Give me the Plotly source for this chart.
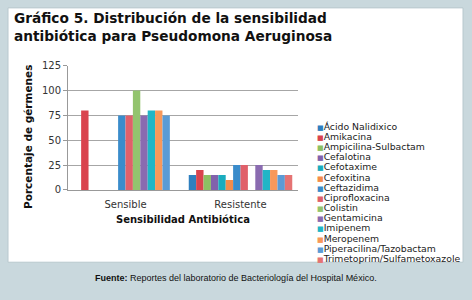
import plotly.graph_objects as go

categories = ["Sensible", "Resistente"]
antibiotics = ["Ácido Nalidixico", "Amikacina", "Ampicilina-Sulbactam", "Cefalotina",
               "Cefotaxime", "Cefoxitina", "Ceftazidima", "Ciprofloxacina", "Colistin",
               "Gentamicina", "Imipenem", "Meropenem", "Piperacilina/Tazobactam",
               "Trimetoprim/Sulfametoxazole"]
sensible = [0, 80, 0, 0, 0, 0, 75, 75, 100, 75, 80, 80, 75, 0]
resistente = [15, 20, 15, 15, 15, 10, 25, 25, 0, 25, 20, 20, 15, 15]
colors = ["#2E7FBF", "#D9434E", "#8CC063", "#8162AC", "#1AACBE", "#F58C4B",
          "#3A8CCB", "#E0606A", "#93C46E", "#8A6BB0", "#20B6C6", "#F8985A",
          "#5B9BD5", "#E57373"]
y_ticks = [0, 25, 50, 75, 100, 125]

W, H = 472, 300
fig = go.Figure()
for i, name in enumerate(antibiotics):
    fig.add_trace(go.Bar(x=categories, y=[sensible[i], resistente[i]], name=name,
                         marker=dict(color=colors[i], line=dict(width=0)),
                         showlegend=False))

# white panel
fig.add_shape(type="rect", xref="paper", yref="paper",
              x0=8/W, x1=463/W, y0=1-267/H, y1=1-3/H,
              fillcolor="white", line=dict(color="#b8c8ce", width=1), layer="below")

# manual legend
for i, name in enumerate(antibiotics):
    y = 126 + i * 10.54
    fig.add_annotation(xref="paper", yref="paper", x=315/W, y=1-y/H,
                       xanchor="left", yanchor="middle", showarrow=False,
                       text=f"<span style='color:{colors[i]};font-size:7px'>■</span>{name}",
                       font=dict(family="DejaVu Sans", size=9.3, color="#222222"))

fig.add_annotation(xref="paper", yref="paper", x=12/W, y=1-3/H, xanchor="left", yanchor="top",
                   showarrow=False, align="left",
                   text="<b>Gráfico 5. Distribución de la sensibilidad<br>antibiótica para Pseudomona Aeruginosa</b>",
                   font=dict(family="DejaVu Sans", size=13.7, color="#111111"))

fig.add_annotation(xref="paper", yref="paper", x=28/W, y=1-137/H, xanchor="center", yanchor="middle",
                   showarrow=False, textangle=-90,
                   text="<b>Porcentaje de gérmenes</b>",
                   font=dict(family="DejaVu Sans", size=10.5, color="#111111"))

fig.add_annotation(xref="paper", yref="paper", x=183/W, y=1-223/H, xanchor="center", yanchor="middle",
                   showarrow=False,
                   text="<b>Sensibilidad Antibiótica</b>",
                   font=dict(family="DejaVu Sans", size=10, color="#111111"))

fig.add_annotation(xref="paper", yref="paper", x=236/W, y=1-283/H, xanchor="center", yanchor="middle",
                   showarrow=False,
                   text="<b>Fuente:</b> Reportes del laboratorio de Bacteriología del Hospital México.",
                   font=dict(family="Liberation Sans", size=9, color="#111111"))

fig.update_layout(
    width=W, height=H,
    margin=dict(l=0, r=0, t=0, b=0),
    paper_bgcolor="#c9d8dd", plot_bgcolor="white",
    barmode="group", bargap=0.1, bargroupgap=0,
    font=dict(family="DejaVu Sans", size=10, color="#333333"),
    xaxis=dict(domain=[68/W, 298/W], showline=True, linecolor="#999999", linewidth=1,
               ticks="", tickfont=dict(size=10, color="#333333"), ticklabelstandoff=5),
    yaxis=dict(domain=[1-192/H, 1-63/H], range=[0, 125], tickvals=y_ticks,
               showgrid=True, gridcolor="#a6a6a6", gridwidth=1, zeroline=False,
               showline=True, linecolor="#999999", ticks="outside", ticklen=4, tickcolor="#999999",
               tickfont=dict(size=10, color="#333333")),
)

fig.write_html("out.html", config={"displayModeBar": False},
               post_script="document.body.style.margin='0';")
